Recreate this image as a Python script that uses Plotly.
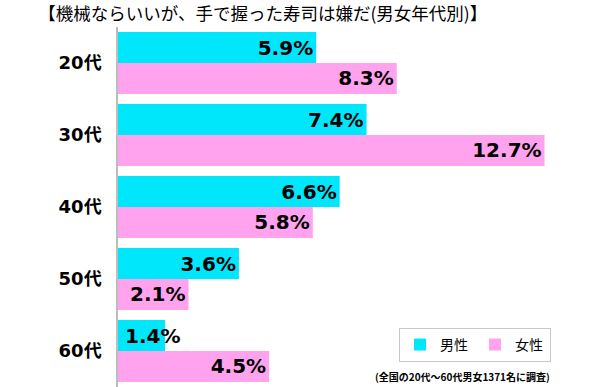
import plotly.graph_objects as go

categories = ["20代", "30代", "40代", "50代", "60代"]
male = [5.9, 7.4, 6.6, 3.6, 1.4]
female = [8.3, 12.7, 5.8, 2.1, 4.5]
series_names = ["男性", "女性"]
title_text = "【機械ならいいが、手で握った寿司は嫌だ(男女年代別)】"
note_text = "(全国の20代～60代男女1371名に調査)"

CYAN = "#00E6FA"
PINK = "#FFA3EE"
FONT = "Noto Sans CJK JP"
NUMFONT = "DejaVu Sans, Noto Sans CJK JP"
SMALL = 1.8  # bars shorter than this get their label anchored at the bar start

fig = go.Figure()
series = [(series_names[0], male, CYAN, 15.5), (series_names[1], female, PINK, -15.5)]
for name, vals, col, shift in series:
    fig.add_trace(go.Bar(
        y=categories, x=vals, name=name, orientation="h",
        marker=dict(color=col, line=dict(width=0)),
        text=[f"{v:.1f}%" if v >= SMALL else "" for v in vals],
        textposition="inside", insidetextanchor="end",
        constraintext="none", cliponaxis=False,
        textfont=dict(family=NUMFONT, size=20, color="black", weight="bold"),
    ))
    for c, v in zip(categories, vals):
        if v < SMALL:
            fig.add_annotation(x=0, y=c, xref="x", yref="y", text=f"{v:.1f}%",
                               xanchor="left", yanchor="middle", xshift=5, yshift=shift,
                               showarrow=False,
                               font=dict(family=NUMFONT, size=20, color="black", weight="bold"))

fig.update_layout(
    width=600, height=387,
    margin=dict(l=118, r=0, t=27, b=0, autoexpand=False),
    paper_bgcolor="white", plot_bgcolor="white",
    barmode="group", bargap=0.14, bargroupgap=0,
    showlegend=True,
    legend=dict(orientation="h", x=0.583, y=0.164, xanchor="left", yanchor="top",
                bgcolor="white", bordercolor="#c8c8c8", borderwidth=1,
                itemwidth=30, entrywidth=30,
                font=dict(family=FONT, size=14, color="black")),
    title=dict(text=title_text, xref="container", x=0.438, xanchor="center",
               yref="container", y=0.963, yanchor="middle",
               font=dict(family=FONT, size=17.5, color="black")),
)
fig.update_xaxes(range=[0, 14.35], showgrid=False, zeroline=False, showticklabels=False,
                 showline=False, fixedrange=True, automargin=False)
fig.update_yaxes(autorange="reversed", showgrid=False, zeroline=False, automargin=False,
                 showline=True, linecolor="#bdbdbd", linewidth=1.5,
                 ticks="", ticklabelstandoff=11,
                 tickfont=dict(family=NUMFONT, size=18, color="black", weight="bold"))
fig.add_annotation(text=note_text, xref="paper", yref="paper", x=0.714, y=0.0,
                   xanchor="center", yanchor="bottom", showarrow=False, yshift=1,
                   font=dict(family=FONT, size=10, color="black", weight="bold"))

fig.write_html("out.html", config={"displayModeBar": False},
               post_script="document.body.style.margin='0';document.body.style.overflow='hidden';")
